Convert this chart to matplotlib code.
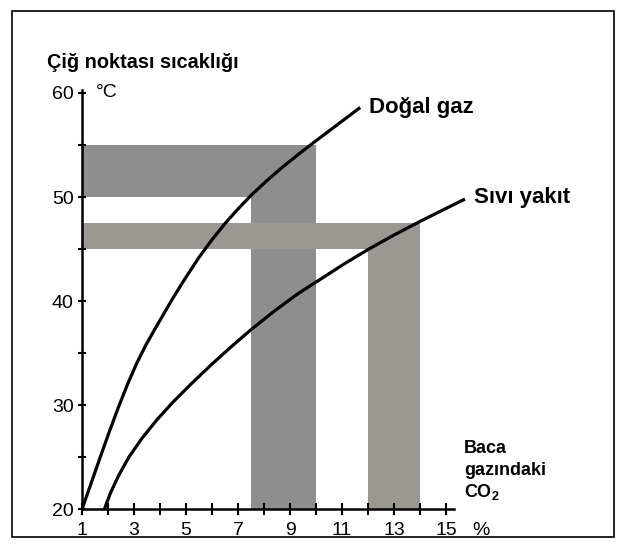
import matplotlib
matplotlib.use("Agg")
import matplotlib.pyplot as plt
from matplotlib.patches import Rectangle
from matplotlib.ticker import MultipleLocator
import matplotlib.transforms as mtransforms

plt.rcParams['font.family'] = ['Liberation Sans', 'DejaVu Sans']
plt.rcParams['mathtext.fontset'] = 'custom'
plt.rcParams['mathtext.rm'] = 'Liberation Sans'
plt.rcParams['mathtext.bf'] = 'Liberation Sans:bold'

# Dew point curves: CO2 content (%) vs. dew point temperature (°C)
gas_x = [1.0, 1.35, 1.7, 2.05, 2.4, 2.75, 3.1, 3.45, 3.8, 4.15, 4.5, 5.0,
         5.5, 6.0, 6.5, 7.0, 7.5, 8.1, 8.7, 9.35, 10.0, 10.85, 11.7]
gas_y = [20.0, 22.5, 25.0, 27.45, 29.8, 32.0, 34.0, 35.75, 37.3, 38.8, 40.3, 42.3,
         44.2, 45.9, 47.45, 48.85, 50.15, 51.55, 52.85, 54.15, 55.4, 57.0, 58.6]

oil_x = [1.86, 2.1, 2.4, 2.8, 3.3, 3.9, 4.5, 5.2, 6.0, 6.8, 7.5, 8.4, 9.3,
         10.2, 11.1, 12.0, 13.0, 14.0, 15.0, 15.73]
oil_y = [20.0, 21.6, 23.2, 25.0, 26.8, 28.65, 30.3, 32.05, 33.95, 35.75, 37.25, 39.05, 40.7,
         42.15, 43.6, 44.95, 46.35, 47.65, 48.9, 49.8]

# Typical operating ranges: (co2_min, co2_max, temp_min, temp_max)
gas_range = (7.5, 10.0, 50.0, 55.0)
oil_range = (12.0, 14.0, 45.0, 47.5)

x_ticks = [1, 3, 5, 7, 9, 11, 13, 15]
y_ticks = [20, 30, 40, 50, 60]

labels = {
    'title': 'Çiğ noktası sıcaklığı',
    'unit_y': '°C',
    'unit_x': '%',
    'gas': 'Doğal gaz',
    'oil': 'Sıvı yakıt',
    'xlabel': ['Baca', 'gazındaki', 'CO$_{\\mathbf{2}}$'],
}

DARK = '#8e8e8e'
LIGHT = '#9b9893'

W, H = 618, 552
fig = plt.figure(figsize=(W / 100, H / 100), dpi=100)

x0, x1 = 1.0, 15.3
y0, y1 = 20.0, 60.3
ax = fig.add_axes([82 / W, (H - 509.3) / H, (x1 - x0) * 26 / W, (y1 - y0) * 10.41 / H])
ax.set_xlim(x0, x1)
ax.set_ylim(y0, y1)

# Shaded range bands: horizontal from the axis to the range, vertical down to the axis
for (cx0, cx1, ty0, ty1), col in [(gas_range, DARK), (oil_range, LIGHT)]:
    ax.add_patch(Rectangle((x0, ty0), cx1 - x0, ty1 - ty0, facecolor=col, edgecolor='none', zorder=1))
    ax.add_patch(Rectangle((cx0, y0), cx1 - cx0, ty1 - y0, facecolor=col, edgecolor='none', zorder=1))

ax.plot(gas_x, gas_y, color='black', lw=2.3, solid_capstyle='butt', solid_joinstyle='round',
        zorder=3, clip_on=False)
ax.plot(oil_x, oil_y, color='black', lw=2.3, solid_capstyle='butt', solid_joinstyle='round',
        zorder=3, clip_on=False)

for side in ['top', 'right']:
    ax.spines[side].set_visible(False)
for side in ['left', 'bottom']:
    ax.spines[side].set_linewidth(1.8)
    ax.spines[side].set_zorder(4)

ax.set_xticks(x_ticks)
ax.set_yticks(y_ticks)
ax.xaxis.set_minor_locator(MultipleLocator(1))
ax.yaxis.set_minor_locator(MultipleLocator(5))
ax.tick_params(axis='x', which='both', direction='inout', length=8, width=1.5, pad=5, labelsize=14)
ax.tick_params(axis='y', which='both', direction='inout', length=6, width=1.5, pad=3, labelsize=14)

# Unit labels
ax.text(1.54, 60, labels['unit_y'], fontsize=14, va='center', ha='left')
trans = mtransforms.offset_copy(ax.get_xaxis_transform(), fig=fig, x=0, y=-8.8, units='points')
ax.text(16.0, 0, labels['unit_x'], fontsize=14, va='top', ha='left', transform=trans, clip_on=False)

fig.text(46.7 / W, (H - 68) / H, labels['title'], fontsize=14.3, fontweight='bold', va='baseline')
fig.text(369 / W, (H - 112.7) / H, labels['gas'], fontsize=16, fontweight='bold', va='baseline')
fig.text(474 / W, (H - 203) / H, labels['oil'], fontsize=16, fontweight='bold', va='baseline')
for txt, base in zip(labels['xlabel'], [453, 475, 497]):
    fig.text(464 / W, (H - base) / H, txt, fontsize=13, fontweight='bold', va='baseline')

# Outer frame
fig.add_artist(Rectangle((12 / W, 15 / H), (614 - 12) / W, (538 - 12) / H,
                         transform=fig.transFigure, fill=False, edgecolor='black', lw=1.2))

fig.savefig('out.png', dpi=100)
